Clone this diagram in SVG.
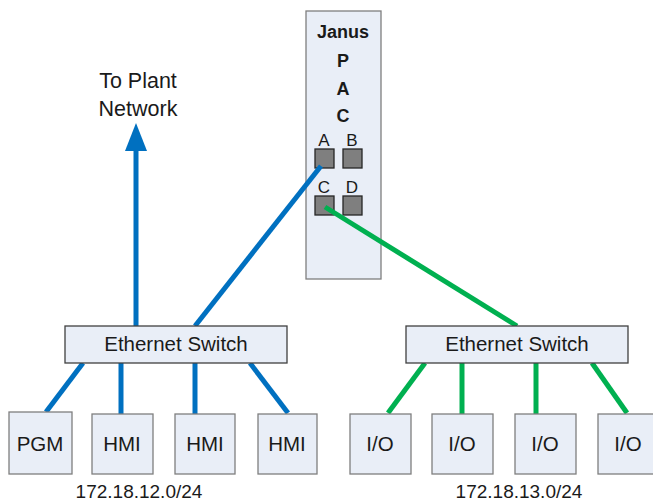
<svg xmlns="http://www.w3.org/2000/svg" width="653" height="502" viewBox="0 0 653 502">
<defs>
<style>
.box{fill:#E9EEF7;stroke:#7F7F7F;stroke-width:1.3}
.sw{fill:#E9EEF7;stroke:#404040;stroke-width:1.3}
.port{fill:#7F7F7F;stroke:#262626;stroke-width:1.3}
.t{font-family:"Liberation Sans",Arial,sans-serif;font-size:20.5px;fill:#1a1a1a;text-anchor:middle}
.tp{font-family:"Liberation Sans",Arial,sans-serif;font-size:21.5px;fill:#1a1a1a;text-anchor:middle}
.tb{font-family:"Liberation Sans",Arial,sans-serif;font-size:18px;font-weight:bold;fill:#1a1a1a;text-anchor:middle}
.tl{font-family:"Liberation Sans",Arial,sans-serif;font-size:17px;fill:#1a1a1a;text-anchor:middle}
.ts{font-family:"Liberation Sans",Arial,sans-serif;font-size:19px;fill:#1a1a1a;text-anchor:middle}
.blue{stroke:#0070C0;stroke-width:5;fill:none}
.green{stroke:#00B050;stroke-width:5;fill:none}
</style>
</defs>
<rect width="653" height="502" fill="#fff"/>
<g id="pac">
<rect class="box" x="306" y="11" width="75" height="268" stroke="#404040"/>
<text class="tb" x="343" y="38">Janus</text>
<text class="tb" x="343" y="67">P</text>
<text class="tb" x="343" y="95">A</text>
<text class="tb" x="343" y="122">C</text>
<rect class="port" x="315" y="149" width="19" height="19"/>
<rect class="port" x="343" y="149" width="19" height="19"/>
<rect class="port" x="315" y="196" width="19" height="19"/>
<rect class="port" x="343" y="196" width="19" height="19"/>
<text class="tl" x="324" y="146">A</text>
<text class="tl" x="352" y="146">B</text>
<text class="tl" x="324" y="193">C</text>
<text class="tl" x="352" y="193">D</text>
</g>
<g id="plant">
<text class="tp" x="138" y="88">To Plant</text>
<text class="tp" x="138" y="116">Network</text>
</g>
<g id="connectors">
<line class="blue" x1="136" y1="326" x2="136" y2="148"/>
<polygon points="136,123 125,151 147,151" fill="#0070C0"/>
<line class="blue" x1="321" y1="166" x2="195" y2="326"/>
<line class="green" x1="325" y1="207" x2="517" y2="326"/>
<line class="blue" x1="83" y1="363" x2="46" y2="412"/>
<line class="blue" x1="121" y1="363" x2="121" y2="414"/>
<line class="blue" x1="195" y1="363" x2="195" y2="414"/>
<line class="blue" x1="250" y1="363" x2="288" y2="413"/>
<line class="green" x1="425" y1="363" x2="388" y2="413"/>
<line class="green" x1="462" y1="363" x2="462" y2="414"/>
<line class="green" x1="536" y1="363" x2="536" y2="414"/>
<line class="green" x1="592" y1="363" x2="627" y2="413"/>
</g>
<g id="switch1">
<rect class="sw" x="65" y="326" width="222" height="37"/>
<text class="t" x="176" y="351">Ethernet Switch</text>
</g>
<g id="switch2">
<rect class="sw" x="406" y="326" width="222" height="37"/>
<text class="t" x="517" y="351">Ethernet Switch</text>
</g>
<g id="pgm"><rect class="box" x="9" y="412" width="63" height="62"/><text class="t" x="40" y="451">PGM</text></g>
<g id="hmi1"><rect class="box" x="92" y="414" width="61" height="60"/><text class="t" x="122" y="451">HMI</text></g>
<g id="hmi2"><rect class="box" x="175" y="414" width="60" height="60"/><text class="t" x="205" y="451">HMI</text></g>
<g id="hmi3"><rect class="box" x="258" y="414" width="59" height="60"/><text class="t" x="287" y="451">HMI</text></g>
<g id="io1"><rect class="box" x="350" y="414" width="61" height="60"/><text class="t" x="380" y="451">I/O</text></g>
<g id="io2"><rect class="box" x="432" y="414" width="61" height="60"/><text class="t" x="462" y="451">I/O</text></g>
<g id="io3"><rect class="box" x="515" y="414" width="61" height="60"/><text class="t" x="545" y="451">I/O</text></g>
<g id="io4"><rect class="box" x="598" y="414" width="61" height="60"/><text class="t" x="628" y="451">I/O</text></g>
<g id="subnets">
<text class="ts" x="139" y="498">172.18.12.0/24</text>
<text class="ts" x="519" y="498">172.18.13.0/24</text>
</g>
</svg>
